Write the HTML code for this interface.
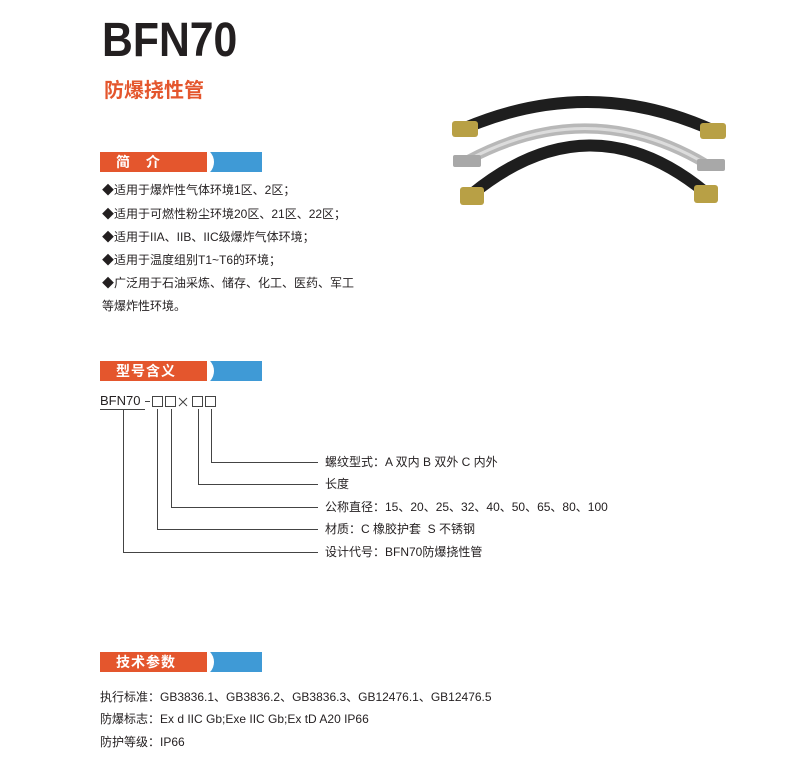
<!DOCTYPE html>
<html><head><meta charset="utf-8"><style>
body{margin:0;width:800px;height:761px;background:#fff;position:relative;overflow:hidden;font-family:"Liberation Sans","Noto Sans CJK SC",sans-serif;color:#231f20}
.a{position:absolute;white-space:nowrap}
.t{font-size:12px;line-height:14px}
.hdr{position:absolute;left:100px;width:162px;height:20px}
.hdr .o{position:absolute;left:0;top:0;width:107px;height:20px;background:#e4562d;color:#fff;font-weight:bold;font-size:14px;line-height:20px;padding-left:16px;box-sizing:border-box}
.hdr .b{position:absolute;left:110px;top:0;width:52px;height:20px;background:#3f9ad6;overflow:hidden}
.hdr .b:before{content:"";position:absolute;left-22px;left:-22px;top:-4px;width:26px;height:28px;border-radius:50%;background:#fff}
</style></head><body>
<div class="a" style="left:102px;top:13px;font-size:48px;font-weight:bold;color:#231f20;transform:scaleX(0.89);transform-origin:0 0">BFN70</div>
<div class="a" style="left:104px;top:74px;font-size:20px;font-weight:bold;color:#e4562d">防爆挠性管</div>

<svg class="a" style="left:430px;top:80px" width="320" height="150" viewBox="430 80 320 150">
<path d="M465 128 Q590 75 712 130" stroke="#1e1e1e" stroke-width="12" fill="none"/>
<path d="M468 160 Q590 95 706 164" stroke="#b8b8b8" stroke-width="10" fill="none"/>
<path d="M468 160 Q590 95 706 164" stroke="#dcdcdc" stroke-width="3" fill="none"/>
<path d="M472 194 Q590 98 705 192" stroke="#1e1e1e" stroke-width="12" fill="none"/>
<rect x="452" y="121" width="26" height="16" rx="3" fill="#b8a045"/>
<rect x="700" y="123" width="26" height="16" rx="3" fill="#b8a045"/>
<rect x="453" y="155" width="28" height="12" rx="2" fill="#a8a8a8"/>
<rect x="697" y="159" width="28" height="12" rx="2" fill="#a8a8a8"/>
<rect x="460" y="187" width="24" height="18" rx="3" fill="#b8a045"/>
<rect x="694" y="185" width="24" height="18" rx="3" fill="#b8a045"/>
</svg>

<div class="hdr" style="top:152px"><div class="o" style="letter-spacing:6px">简 介</div><div class="b"></div></div>
<div class="a t" style="left:102px;top:183px">◆适用于爆炸性气体环境1区、2区；</div>
<div class="a t" style="left:102px;top:207px">◆适用于可燃性粉尘环境20区、21区、22区；</div>
<div class="a t" style="left:102px;top:230px">◆适用于IIA、IIB、IIC级爆炸气体环境；</div>
<div class="a t" style="left:102px;top:253px">◆适用于温度组别T1~T6的环境；</div>
<div class="a t" style="left:102px;top:276px">◆广泛用于石油采炼、储存、化工、医药、军工</div>
<div class="a t" style="left:102px;top:299px">等爆炸性环境。</div>

<div class="hdr" style="top:361px"><div class="o" style="letter-spacing:1px">型号含义</div><div class="b"></div></div>
<div class="a" style="left:100px;top:393px;font-size:13px;line-height:15px">BFN70</div>
<svg class="a" style="left:0;top:0" width="800" height="761">
<g stroke="#444" stroke-width="1" fill="none">
<line x1="100" y1="409.5" x2="145" y2="409.5"/>
<line x1="145" y1="401.5" x2="150" y2="401.5"/>
<rect x="152.5" y="396.5" width="10" height="10"/>
<rect x="165.5" y="396.5" width="10" height="10"/>
<rect x="192.5" y="396.5" width="10" height="10"/>
<rect x="205.5" y="396.5" width="10" height="10"/>
<path d="M179 398 l8 8 M187 398 l-8 8"/>
<path d="M211.5 409 V462.5 H318"/>
<path d="M198.5 409 V484.5 H318"/>
<path d="M171.5 409 V507.5 H318"/>
<path d="M157.5 409 V529.5 H318"/>
<path d="M123.5 410 V552.5 H318"/>
</g></svg>
<div class="a t" style="left:325px;top:455px">螺纹型式：A 双内 B 双外 C 内外</div>
<div class="a t" style="left:325px;top:477px">长度</div>
<div class="a t" style="left:325px;top:500px">公称直径：15、20、25、32、40、50、65、80、100</div>
<div class="a t" style="left:325px;top:522px">材质：C 橡胶护套&nbsp; S 不锈钢</div>
<div class="a t" style="left:325px;top:545px">设计代号：BFN70防爆挠性管</div>

<div class="hdr" style="top:652px"><div class="o" style="letter-spacing:1px">技术参数</div><div class="b"></div></div>
<div class="a t" style="left:100px;top:690px">执行标准：GB3836.1、GB3836.2、GB3836.3、GB12476.1、GB12476.5</div>
<div class="a t" style="left:100px;top:712px">防爆标志：Ex d IIC Gb;Exe IIC Gb;Ex tD A20 IP66</div>
<div class="a t" style="left:100px;top:735px">防护等级：IP66</div>
</body></html>
